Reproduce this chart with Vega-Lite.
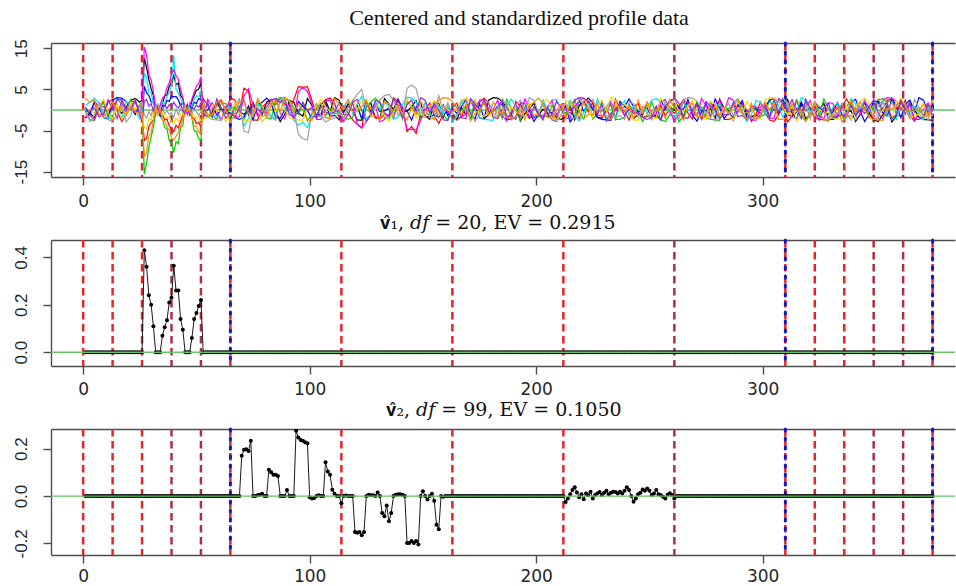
{
  "$schema": "https://vega.github.io/schema/vega-lite/v6.json",
  "background": "white",
  "padding": {"left": 0, "top": 6, "right": 0, "bottom": 0},
  "spacing": 63,
  "bounds": "flush",
  "config": {
    "view": {"stroke": null},
    "axis": {
      "domainColor": "#4d4d4d", "domainWidth": 1.4,
      "tickColor": "#4d4d4d", "tickWidth": 1.4, "tickSize": 8,
      "labelColor": "#262626", "labelFont": "Liberation Sans", "labelFontSize": 17,
      "grid": false, "title": null, "labelOverlap": false, "labelFlush": false
    }
  },
  "datasets": {
    "breaks": [
      {"x": 0, "set": 1, "end": false}, {"x": 13, "set": 1, "end": false}, {"x": 26, "set": 1, "end": false},
      {"x": 39, "set": 2, "end": false}, {"x": 52, "set": 2, "end": false}, {"x": 65, "set": 1, "end": true},
      {"x": 114, "set": 1, "end": false}, {"x": 163, "set": 1, "end": false}, {"x": 212, "set": 1, "end": false},
      {"x": 261, "set": 2, "end": false}, {"x": 310, "set": 1, "end": true}, {"x": 323, "set": 1, "end": false},
      {"x": 336, "set": 1, "end": false}, {"x": 349, "set": 2, "end": false}, {"x": 362, "set": 2, "end": false},
      {"x": 375, "set": 1, "end": true}
    ],
    "profiles": [
      {"x":1,"a":-2.0,"b":-1.0,"c":-0.1,"d":0.6,"e":1.1,"f":-1.6,"g":-1.4,"h":-0.2,"i":-0.4,"j":2.8},
      {"x":3,"a":-0.7,"b":-0.5,"c":-2.4,"d":-1.1,"e":1.9,"f":-1.3,"g":0.2,"h":-2.8,"i":-0.2,"j":1.9},
      {"x":5,"a":-1.9,"b":1.8,"c":-2.5,"d":2.1,"e":2.9,"f":-2.4,"g":-0.8,"h":-1.1,"i":0.6,"j":2.4},
      {"x":7,"a":0.8,"b":-1.1,"c":0.7,"d":0.6,"e":1.7,"f":1.0,"g":0.8,"h":1.9,"i":-1.7,"j":-1.1},
      {"x":9,"a":2.3,"b":-1.2,"c":1.7,"d":-1.9,"e":-1.8,"f":0.8,"g":2.5,"h":-0.7,"i":-1.0,"j":-1.6},
      {"x":11,"a":-1.3,"b":1.9,"c":-1.9,"d":-2.2,"e":-2.0,"f":-0.1,"g":-0.8,"h":-2.4,"i":2.5,"j":-0.5},
      {"x":13,"a":0.9,"b":2.6,"c":-2.1,"d":2.4,"e":0.1,"f":1.0,"g":-2.2,"h":-2.8,"i":0.1,"j":1.9},
      {"x":15,"a":0.2,"b":-0.2,"c":2.8,"d":3.0,"e":1.5,"f":-2.1,"g":1.6,"h":-1.2,"i":2.4,"j":-0.2},
      {"x":17,"a":-0.8,"b":-2.8,"c":1.4,"d":2.9,"e":-2.2,"f":2.4,"g":-2.2,"h":1.0,"i":2.6,"j":0.6},
      {"x":19,"a":0.7,"b":-1.1,"c":0.2,"d":2.1,"e":2.1,"f":-0.5,"g":-1.1,"h":-2.9,"i":0.3,"j":-1.3},
      {"x":21,"a":2.4,"b":2.3,"c":2.5,"d":0.6,"e":0.9,"f":1.9,"g":1.9,"h":-1.5,"i":0.2,"j":0.8},
      {"x":23,"a":2.8,"b":1.9,"c":-0.4,"d":-1.1,"e":-0.1,"f":-0.4,"g":0.1,"h":2.4,"i":2.4,"j":-0.5},
      {"x":25,"a":1.9,"b":-0.7,"c":-0.3,"d":1.5,"e":-2.1,"f":-0.2,"g":1.6,"h":-0.5,"i":-1.3,"j":-1.0},
      {"x":26,"a":2.4,"b":-1.5,"c":0.8,"d":-2.7,"e":-1.1,"f":0.4,"g":-2.3,"h":2.0,"i":-2.7,"j":-0.5},
      {"x":27,"a":12.6,"b":-7.4,"c":-15.6,"d":5.8,"e":9.0,"f":15.3,"g":-4.2,"h":-1.2,"i":2.1,"j":-11.4},
      {"x":28,"a":10.3,"b":-6.9,"c":-12.9,"d":4.2,"e":7.8,"f":13.4,"g":-4.6,"h":-2.0,"i":2.6,"j":-10.2},
      {"x":29,"a":7.4,"b":-4.0,"c":-9.1,"d":3.5,"e":4.4,"f":8.5,"g":-2.1,"h":-0.3,"i":0.9,"j":-6.3},
      {"x":30,"a":5.2,"b":-3.1,"c":-6.6,"d":2.0,"e":4.3,"f":7.3,"g":-2.5,"h":-1.4,"i":1.6,"j":-5.6},
      {"x":31,"a":3.6,"b":-2.5,"c":-4.3,"d":1.9,"e":1.5,"f":4.4,"g":-0.6,"h":0.7,"i":-0.2,"j":-2.6},
      {"x":32,"a":-0.7,"b":-1.1,"c":-0.5,"d":0.3,"e":0.2,"f":0.6,"g":0.8,"h":-0.4,"i":1.3,"j":1.2},
      {"x":33,"a":0.4,"b":0.6,"c":1.1,"d":-0.6,"e":-1.3,"f":-0.8,"g":-1.2,"h":1.6,"i":0.5,"j":-0.9},
      {"x":34,"a":0.9,"b":-0.2,"c":-1.4,"d":-1.5,"e":0.7,"f":1.2,"g":0.4,"h":-0.9,"i":-0.8,"j":0.3},
      {"x":35,"a":1.7,"b":-0.9,"c":-2.2,"d":1.2,"e":1.9,"f":2.9,"g":-1.1,"h":0.1,"i":0.2,"j":-2.4},
      {"x":36,"a":3.4,"b":-2.4,"c":-4.3,"d":1.0,"e":1.6,"f":3.5,"g":-0.9,"h":-0.8,"i":1.1,"j":-2.6},
      {"x":37,"a":3.7,"b":-2.2,"c":-4.6,"d":2.3,"e":3.3,"f":5.4,"g":-1.9,"h":-0.2,"i":0.4,"j":-4.1},
      {"x":38,"a":5.9,"b":-3.9,"c":-7.4,"d":2.1,"e":4.4,"f":6.6,"g":-1.6,"h":-1.1,"i":1.3,"j":-4.9},
      {"x":39,"a":6.5,"b":-4.6,"c":-8.1,"d":3.4,"e":6.1,"f":8.9,"g":-2.9,"h":-0.6,"i":0.9,"j":-6.8},
      {"x":40,"a":8.4,"b":-5.3,"c":-10.4,"d":3.2,"e":13.2,"f":9.8,"g":-3.4,"h":-1.8,"i":1.9,"j":-7.3},
      {"x":41,"a":6.1,"b":-3.7,"c":-7.7,"d":3.3,"e":5.1,"f":8.4,"g":-2.0,"h":0.3,"i":1.0,"j":-6.4},
      {"x":42,"a":6.6,"b":-4.4,"c":-8.2,"d":2.4,"e":4.0,"f":7.5,"g":-2.8,"h":-1.2,"i":0.5,"j":-5.5},
      {"x":43,"a":3.5,"b":-2.7,"c":-4.3,"d":1.2,"e":2.9,"f":5.1,"g":-1.0,"h":0.4,"i":1.4,"j":-3.9},
      {"x":44,"a":2.9,"b":-1.2,"c":-3.8,"d":1.8,"e":1.4,"f":3.0,"g":-1.3,"h":-0.7,"i":-0.1,"j":-2.1},
      {"x":45,"a":-0.3,"b":0.3,"c":0.9,"d":-0.5,"e":0.6,"f":0.4,"g":0.7,"h":1.1,"i":-0.9,"j":-1.2},
      {"x":46,"a":1.0,"b":1.4,"c":-0.6,"d":0.2,"e":-0.7,"f":-1.1,"g":-0.3,"h":-0.2,"i":0.6,"j":0.5},
      {"x":47,"a":-0.9,"b":-0.8,"c":1.3,"d":1.1,"e":1.8,"f":0.8,"g":0.2,"h":0.6,"i":-1.3,"j":-0.4},
      {"x":48,"a":2.2,"b":-1.6,"c":-2.0,"d":0.4,"e":0.9,"f":2.7,"g":-1.0,"h":-0.9,"i":0.5,"j":-1.3},
      {"x":49,"a":3.6,"b":-2.1,"c":-5.1,"d":1.9,"e":2.7,"f":4.3,"g":-1.2,"h":0.2,"i":0.3,"j":-3.9},
      {"x":50,"a":4.8,"b":-3.3,"c":-5.2,"d":1.6,"e":3.4,"f":5.9,"g":-2.1,"h":-0.5,"i":1.2,"j":-4.0},
      {"x":51,"a":5.1,"b":-3.0,"c":-7.0,"d":2.8,"e":3.3,"f":6.4,"g":-1.6,"h":-1.3,"i":0.7,"j":-5.4},
      {"x":52,"a":6.5,"b":-4.2,"c":-7.5,"d":2.5,"e":4.6,"f":8.1,"g":-2.6,"h":-0.4,"i":1.5,"j":-5.6},
      {"x":53,"a":-1.1,"b":2.8,"c":2.3,"d":-0.9,"e":-1.1,"f":-2.1,"g":-2.3,"h":0.1,"i":-0.5,"j":1.8},
      {"x":55,"a":-1.6,"b":1.1,"c":-1.6,"d":0.1,"e":1.7,"f":2.6,"g":-1.7,"h":-1.8,"i":1.6,"j":-1.1},
      {"x":57,"a":-0.5,"b":-1.8,"c":-1.3,"d":1.7,"e":-1.6,"f":0.4,"g":1.4,"h":-2.3,"i":-1.5,"j":-1.2},
      {"x":59,"a":1.9,"b":1.3,"c":-2.3,"d":-1.4,"e":-1.3,"f":-0.2,"g":-0.3,"h":-2.4,"i":2.7,"j":1.9},
      {"x":61,"a":-0.2,"b":2.4,"c":1.8,"d":0.2,"e":-2.4,"f":-2.5,"g":-0.2,"h":-2.5,"i":0.5,"j":2.6},
      {"x":63,"a":0.6,"b":-0.4,"c":1.6,"d":-0.9,"e":1.0,"f":0.7,"g":-2.8,"h":0.4,"i":-2.0,"j":-0.2},
      {"x":65,"a":-1.3,"b":3.0,"c":-1.8,"d":-0.6,"e":0.8,"f":1.7,"g":-1.1,"h":0.4,"i":-0.7,"j":-2.8},
      {"x":67,"a":0.8,"b":2.4,"c":0.8,"d":-1.8,"e":-0.1,"f":-1.7,"g":1.9,"h":0.8,"i":-1.9,"j":-1.1},
      {"x":69,"a":-0.5,"b":-0.6,"c":-0.8,"d":-2.3,"e":1.0,"f":-1.6,"g":-0.7,"h":2.7,"i":0.8,"j":2.3},
      {"x":71,"a":-1.0,"b":5.3,"c":-2.4,"d":-1.7,"e":-3.9,"f":3.4,"g":-2.4,"h":-5.2,"i":2.3,"j":1.9},
      {"x":73,"a":-0.5,"b":4.6,"c":0.6,"d":1.0,"e":-2.0,"f":5.2,"g":-2.8,"h":-5.5,"i":-1.3,"j":-0.7},
      {"x":75,"a":1.8,"b":-2.4,"c":-1.1,"d":-2.4,"e":-0.5,"f":1.2,"g":-1.2,"h":-0.2,"i":0.9,"j":-1.5},
      {"x":77,"a":-1.1,"b":-2.5,"c":2.1,"d":1.1,"e":1.9,"f":-1.4,"g":1.0,"h":0.6,"i":0.2,"j":2.8},
      {"x":79,"a":-1.2,"b":0.7,"c":0.6,"d":1.9,"e":-0.4,"f":0.2,"g":-2.9,"h":-1.7,"i":-0.8,"j":1.1},
      {"x":81,"a":1.9,"b":1.7,"c":-1.9,"d":2.9,"e":-0.2,"f":-0.8,"g":-1.5,"h":-1.0,"i":0.7,"j":-1.8},
      {"x":83,"a":2.6,"b":1.6,"c":-2.2,"d":1.7,"e":-1.4,"f":2.3,"g":2.4,"h":-1.8,"i":2.4,"j":1.3},
      {"x":85,"a":-0.2,"b":1.4,"c":2.4,"d":-1.8,"e":-2.2,"f":2.8,"g":-0.5,"h":-2.5,"i":2.8,"j":2.4},
      {"x":87,"a":-2.8,"b":2.8,"c":3.0,"d":-2.0,"e":2.6,"f":-0.8,"g":2.0,"h":2.4,"i":1.9,"j":-0.4},
      {"x":89,"a":-1.1,"b":1.4,"c":2.9,"d":0.1,"e":0.4,"f":-2.2,"g":0.1,"h":2.6,"i":2.4,"j":3.0},
      {"x":91,"a":2.3,"b":0.2,"c":2.1,"d":1.5,"e":-0.2,"f":1.6,"g":-1.8,"h":0.3,"i":-1.1,"j":2.4},
      {"x":93,"a":1.9,"b":2.5,"c":0.6,"d":-2.2,"e":-2.5,"f":-2.2,"g":-2.3,"h":0.2,"i":-1.6,"j":-0.6},
      {"x":95,"a":-0.7,"b":5.7,"c":-1.1,"d":2.1,"e":-3.7,"f":4.5,"g":-2.4,"h":-5.9,"i":-0.5,"j":1.5},
      {"x":97,"a":-1.5,"b":5.5,"c":1.5,"d":0.9,"e":-3.0,"f":5.5,"g":-2.5,"h":-7.0,"i":1.9,"j":-0.1},
      {"x":99,"a":2.8,"b":5.7,"c":-2.7,"d":-0.1,"e":-4.3,"f":4.5,"g":0.4,"h":-7.3,"i":-0.2,"j":-2.4},
      {"x":101,"a":1.1,"b":2.3,"c":-0.9,"d":-2.1,"e":-1.6,"f":1.6,"g":0.4,"h":-0.5,"i":0.6,"j":-2.5},
      {"x":103,"a":-1.8,"b":-1.6,"c":0.1,"d":-1.1,"e":-1.2,"f":-2.3,"g":0.8,"h":1.6,"i":-1.3,"j":0.7},
      {"x":105,"a":1.3,"b":-1.3,"c":1.7,"d":-1.1,"e":-1.7,"f":-2.3,"g":2.7,"h":-1.5,"i":0.8,"j":1.7},
      {"x":107,"a":2.4,"b":2.5,"c":-1.4,"d":1.7,"e":-1.8,"f":2.2,"g":0.8,"h":-2.9,"i":-0.5,"j":-1.9},
      {"x":109,"a":-0.4,"b":2.9,"c":0.2,"d":-1.6,"e":-2.0,"f":2.4,"g":-0.4,"h":-2.3,"i":-1.0,"j":-2.1},
      {"x":111,"a":3.0,"b":1.6,"c":-0.9,"d":-1.3,"e":0.2,"f":-0.3,"g":-0.2,"h":-2.0,"i":-0.5,"j":2.8},
      {"x":113,"a":2.4,"b":-1.8,"c":-0.6,"d":-2.4,"e":-0.8,"f":-0.2,"g":0.6,"h":-0.7,"i":1.8,"j":1.4},
      {"x":115,"a":-0.6,"b":0.8,"c":-1.8,"d":1.0,"e":0.8,"f":-2.8,"g":-1.7,"h":-1.9,"i":-1.1,"j":0.2},
      {"x":117,"a":1.5,"b":-0.8,"c":-2.3,"d":0.8,"e":2.5,"f":-1.1,"g":-1.0,"h":0.8,"i":-1.2,"j":2.5},
      {"x":119,"a":-0.1,"b":-2.4,"c":-1.7,"d":-0.1,"e":-0.8,"f":1.9,"g":2.5,"h":2.3,"i":1.9,"j":-0.4},
      {"x":121,"a":-2.4,"b":-3.5,"c":1.0,"d":1.0,"e":1.6,"f":-3.4,"g":0.1,"h":3.8,"i":2.6,"j":-0.3},
      {"x":123,"a":-2.5,"b":-4.4,"c":-2.4,"d":-2.1,"e":3.3,"f":-4.3,"g":2.4,"h":5.0,"i":-0.2,"j":0.8},
      {"x":125,"a":0.7,"b":2.1,"c":1.1,"d":2.4,"e":-2.2,"f":-2.8,"g":2.6,"h":0.2,"i":-2.8,"j":2.3},
      {"x":127,"a":1.7,"b":0.6,"c":1.9,"d":-0.5,"e":-1.1,"f":-1.2,"g":0.3,"h":-0.8,"i":-1.1,"j":-1.6},
      {"x":129,"a":-1.9,"b":-1.9,"c":2.9,"d":1.9,"e":1.9,"f":1.0,"g":0.2,"h":0.7,"i":2.3,"j":-1.3},
      {"x":131,"a":-2.1,"b":-2.2,"c":1.7,"d":-0.4,"e":0.1,"f":-2.9,"g":2.4,"h":2.4,"i":1.9,"j":-2.3},
      {"x":133,"a":2.8,"b":-1.0,"c":-1.8,"d":-0.2,"e":2.0,"f":-2.3,"g":-1.3,"h":3.5,"i":-0.7,"j":1.8},
      {"x":135,"a":1.4,"b":-1.4,"c":-2.0,"d":0.4,"e":0.8,"f":-1.1,"g":-2.7,"h":3.8,"i":-1.5,"j":1.6},
      {"x":137,"a":0.2,"b":2.9,"c":0.1,"d":-2.1,"e":-2.3,"f":-0.5,"g":-0.5,"h":2.4,"i":2.8,"j":-1.8},
      {"x":139,"a":2.5,"b":2.1,"c":1.5,"d":2.6,"e":-1.7,"f":2.0,"g":1.6,"h":-1.1,"i":1.1,"j":0.8},
      {"x":141,"a":-0.4,"b":0.6,"c":-2.2,"d":0.4,"e":1.4,"f":0.1,"g":-1.5,"h":-1.6,"i":-1.8,"j":-0.8},
      {"x":143,"a":-0.3,"b":-5.2,"c":2.1,"d":-0.2,"e":3.1,"f":-4.7,"g":2.7,"h":5.3,"i":1.3,"j":-2.4},
      {"x":145,"a":0.8,"b":-4.0,"c":0.9,"d":-2.5,"e":2.9,"f":-4.7,"g":0.5,"h":6.1,"i":2.4,"j":0.6},
      {"x":147,"a":2.3,"b":-5.7,"c":-0.1,"d":0.7,"e":1.9,"f":-4.8,"g":-2.0,"h":5.2,"i":-0.4,"j":-1.1},
      {"x":149,"a":-1.6,"b":-0.9,"c":-2.1,"d":1.7,"e":-1.1,"f":-2.5,"g":-0.7,"h":0.6,"i":3.0,"j":2.1},
      {"x":151,"a":-1.3,"b":0.1,"c":-1.1,"d":-1.7,"e":1.9,"f":0.4,"g":-1.9,"h":-1.3,"i":2.4,"j":0.6},
      {"x":153,"a":-2.3,"b":1.7,"c":-1.1,"d":-1.6,"e":-0.7,"f":0.4,"g":0.8,"h":0.8,"i":-0.6,"j":-1.9},
      {"x":155,"a":1.8,"b":-1.4,"c":1.7,"d":-1.2,"e":-2.4,"f":0.8,"g":2.3,"h":-0.5,"i":1.5,"j":-2.2},
      {"x":157,"a":1.6,"b":-3.3,"c":-1.6,"d":-1.7,"e":1.1,"f":-1.7,"g":-1.3,"h":3.5,"i":-0.1,"j":2.4},
      {"x":159,"a":-1.8,"b":-0.9,"c":-1.3,"d":1.2,"e":-1.2,"f":0.8,"g":0.9,"h":-0.5,"i":-2.4,"j":3.0},
      {"x":161,"a":0.8,"b":-0.6,"c":-2.4,"d":-1.4,"e":1.0,"f":-0.4,"g":0.2,"h":1.8,"i":-2.5,"j":2.9},
      {"x":163,"a":-0.8,"b":-1.8,"c":1.0,"d":0.2,"e":-2.9,"f":-0.2,"g":-0.8,"h":-1.1,"i":0.7,"j":2.1},
      {"x":165,"a":-2.4,"b":-2.3,"c":0.8,"d":-0.8,"e":-1.5,"f":0.6,"g":0.7,"h":-1.2,"i":1.7,"j":0.6},
      {"x":167,"a":0.6,"b":-1.7,"c":-0.1,"d":0.8,"e":2.4,"f":-1.7,"g":2.4,"h":1.9,"i":-1.9,"j":-1.1},
      {"x":169,"a":-1.1,"b":1.0,"c":1.0,"d":2.5,"e":-0.5,"f":-1.0,"g":2.8,"h":2.6,"i":-2.1,"j":1.5},
      {"x":171,"a":2.1,"b":-2.4,"c":-2.1,"d":-0.8,"e":2.0,"f":2.5,"g":1.9,"h":-0.2,"i":2.8,"j":-2.7},
      {"x":173,"a":0.6,"b":1.1,"c":2.4,"d":-2.2,"e":0.1,"f":0.1,"g":2.4,"h":-2.8,"i":1.4,"j":-0.9},
      {"x":175,"a":-1.9,"b":1.9,"c":-0.5,"d":1.6,"e":-1.8,"f":2.4,"g":-1.1,"h":-1.1,"i":0.2,"j":0.1},
      {"x":177,"a":-2.2,"b":2.9,"c":1.9,"d":-2.2,"e":-2.3,"f":2.6,"g":-1.6,"h":2.3,"i":2.5,"j":1.7},
      {"x":179,"a":2.4,"b":1.7,"c":-0.4,"d":-1.1,"e":-2.4,"f":0.3,"g":-0.5,"h":1.9,"i":-0.4,"j":-1.4},
      {"x":181,"a":3.0,"b":-1.8,"c":-0.2,"d":1.9,"e":-2.5,"f":0.2,"g":1.9,"h":-0.7,"i":-0.3,"j":0.2},
      {"x":183,"a":2.9,"b":-2.0,"c":0.4,"d":0.1,"e":0.4,"f":2.4,"g":-0.2,"h":-1.5,"i":0.8,"j":-0.9},
      {"x":185,"a":2.1,"b":0.1,"c":-2.1,"d":1.6,"e":0.4,"f":-1.3,"g":0.6,"h":2.8,"i":2.3,"j":-0.6},
      {"x":187,"a":0.6,"b":1.5,"c":2.6,"d":-2.3,"e":0.8,"f":-2.7,"g":-1.3,"h":1.1,"i":-1.6,"j":-1.8},
      {"x":189,"a":-1.1,"b":-2.2,"c":0.4,"d":-2.3,"e":2.7,"f":-0.5,"g":0.8,"h":-1.8,"i":-1.3,"j":-2.3},
      {"x":191,"a":1.5,"b":2.1,"c":-0.2,"d":-1.7,"e":0.8,"f":1.6,"g":-0.5,"h":1.3,"i":-2.3,"j":-1.7},
      {"x":193,"a":-2.7,"b":0.9,"c":-2.5,"d":1.4,"e":-0.4,"f":-1.5,"g":-1.0,"h":2.4,"i":1.8,"j":1.0},
      {"x":195,"a":-0.9,"b":-0.1,"c":0.7,"d":-0.3,"e":-0.2,"f":2.7,"g":-0.5,"h":-0.4,"i":1.6,"j":-2.4},
      {"x":197,"a":0.1,"b":-2.1,"c":1.7,"d":-0.2,"e":0.6,"f":0.5,"g":1.8,"h":3.0,"i":-1.8,"j":1.1},
      {"x":199,"a":1.7,"b":-1.1,"c":-1.7,"d":-2.8,"e":-1.7,"f":-2.0,"g":-1.1,"h":2.4,"i":0.8,"j":1.9},
      {"x":201,"a":-1.4,"b":-1.1,"c":-1.6,"d":-1.1,"e":-1.0,"f":-0.7,"g":-1.2,"h":-0.6,"i":-0.8,"j":2.9},
      {"x":203,"a":0.2,"b":1.7,"c":-1.2,"d":1.9,"e":2.5,"f":-1.9,"g":1.9,"h":1.5,"i":-2.4,"j":1.7},
      {"x":205,"a":-0.9,"b":-1.6,"c":-1.7,"d":-0.7,"e":0.1,"f":0.8,"g":2.6,"h":-0.1,"i":0.6,"j":-1.8},
      {"x":207,"a":-0.6,"b":-1.3,"c":1.2,"d":-2.4,"e":2.4,"f":2.3,"g":-0.2,"h":-2.4,"i":-1.1,"j":-2.0},
      {"x":209,"a":-1.8,"b":-2.4,"c":-1.4,"d":-2.8,"e":2.6,"f":-1.3,"g":-2.8,"h":-2.5,"i":2.1,"j":0.1},
      {"x":211,"a":-2.3,"b":1.0,"c":0.2,"d":-1.2,"e":0.3,"f":0.9,"g":-1.1,"h":0.7,"i":0.6,"j":1.5},
      {"x":213,"a":-1.7,"b":0.8,"c":-0.8,"d":1.0,"e":0.2,"f":0.2,"g":2.3,"h":1.7,"i":-1.9,"j":-2.2},
      {"x":215,"a":1.0,"b":-0.1,"c":0.8,"d":-2.9,"e":2.4,"f":-0.8,"g":1.9,"h":-1.9,"i":-2.2,"j":2.1},
      {"x":217,"a":-2.4,"b":1.0,"c":2.5,"d":-1.5,"e":-1.3,"f":0.7,"g":-0.7,"h":-2.1,"i":2.4,"j":0.9},
      {"x":219,"a":1.1,"b":-2.1,"c":-0.8,"d":2.4,"e":-2.7,"f":2.4,"g":-1.5,"h":2.8,"i":3.0,"j":-0.1},
      {"x":221,"a":1.9,"b":2.4,"c":-2.2,"d":-0.5,"e":-0.5,"f":2.8,"g":2.8,"h":1.4,"i":2.9,"j":-2.1},
      {"x":223,"a":2.9,"b":-0.5,"c":1.6,"d":2.0,"e":1.6,"f":1.9,"g":1.1,"h":0.2,"i":2.1,"j":-1.1},
      {"x":225,"a":1.7,"b":1.9,"c":-2.2,"d":0.1,"e":-1.5,"f":2.4,"g":-1.8,"h":2.5,"i":0.6,"j":-1.1},
      {"x":227,"a":-1.8,"b":-0.4,"c":-1.1,"d":-1.8,"e":2.7,"f":-1.1,"g":1.3,"h":-0.4,"i":-1.1,"j":1.7},
      {"x":229,"a":-2.0,"b":-0.2,"c":1.9,"d":-2.3,"e":0.5,"f":-1.6,"g":2.4,"h":-0.3,"i":1.5,"j":-1.6},
      {"x":231,"a":0.1,"b":0.4,"c":0.1,"d":-2.4,"e":-2.0,"f":-0.5,"g":-0.4,"h":0.8,"i":-2.7,"j":-1.3},
      {"x":233,"a":1.5,"b":-2.1,"c":1.6,"d":-2.5,"e":-0.7,"f":1.9,"g":3.0,"h":2.3,"i":-0.9,"j":-2.4},
      {"x":235,"a":-2.2,"b":2.6,"c":-2.3,"d":0.4,"e":-1.9,"f":-0.2,"g":2.4,"h":-1.6,"i":0.1,"j":1.0},
      {"x":237,"a":2.1,"b":0.4,"c":-2.3,"d":0.4,"e":0.8,"f":0.6,"g":-0.6,"h":-1.3,"i":1.7,"j":0.8},
      {"x":239,"a":0.9,"b":-0.2,"c":-1.7,"d":0.8,"e":2.3,"f":-1.3,"g":1.5,"h":-2.3,"i":-1.4,"j":-0.1},
      {"x":241,"a":-0.1,"b":-2.5,"c":1.4,"d":2.7,"e":-1.3,"f":0.8,"g":-0.1,"h":1.8,"i":0.2,"j":1.0},
      {"x":243,"a":-2.1,"b":0.7,"c":-0.3,"d":0.8,"e":0.9,"f":-0.5,"g":-2.4,"h":1.6,"i":-0.9,"j":-2.1},
      {"x":245,"a":-1.1,"b":1.7,"c":-0.2,"d":-0.4,"e":0.2,"f":-1.0,"g":-2.5,"h":-1.8,"i":-0.6,"j":2.4},
      {"x":247,"a":-1.1,"b":-1.7,"c":-2.8,"d":-0.2,"e":-0.8,"f":-0.5,"g":0.7,"h":0.8,"i":-1.8,"j":-0.5},
      {"x":249,"a":1.7,"b":-1.6,"c":-1.1,"d":0.6,"e":0.7,"f":1.8,"g":1.7,"h":-0.8,"i":-2.3,"j":1.9},
      {"x":251,"a":-1.6,"b":-1.2,"c":1.9,"d":-1.7,"e":2.4,"f":-1.1,"g":-1.9,"h":-2.4,"i":-1.7,"j":-0.4},
      {"x":253,"a":-1.3,"b":-1.7,"c":-0.7,"d":-1.0,"e":2.8,"f":-1.2,"g":-2.1,"h":0.6,"i":1.0,"j":-0.2},
      {"x":255,"a":-2.4,"b":1.2,"c":-2.4,"d":2.5,"e":1.9,"f":1.9,"g":2.8,"h":-1.1,"i":-2.4,"j":0.4},
      {"x":257,"a":1.0,"b":-1.4,"c":-2.8,"d":0.1,"e":2.4,"f":2.6,"g":1.4,"h":2.1,"i":1.1,"j":-2.1},
      {"x":259,"a":0.8,"b":0.2,"c":-1.2,"d":2.4,"e":-1.1,"f":-0.2,"g":0.2,"h":0.6,"i":1.9,"j":2.6},
      {"x":261,"a":-0.1,"b":-0.8,"c":1.0,"d":2.6,"e":-1.6,"f":-2.8,"g":2.5,"h":-1.9,"i":2.9,"j":0.4},
      {"x":263,"a":1.0,"b":0.8,"c":-2.9,"d":0.3,"e":-0.5,"f":-1.1,"g":-0.4,"h":-2.2,"i":1.7,"j":-0.2},
      {"x":265,"a":-2.1,"b":2.5,"c":-1.5,"d":0.2,"e":1.9,"f":2.3,"g":-0.3,"h":2.4,"i":-1.8,"j":-2.5},
      {"x":267,"a":2.4,"b":-0.8,"c":2.4,"d":2.4,"e":-0.2,"f":1.9,"g":0.8,"h":3.0,"i":-2.0,"j":0.7},
      {"x":269,"a":-0.5,"b":-2.2,"c":-0.5,"d":-1.3,"e":0.6,"f":-0.7,"g":2.3,"h":2.9,"i":0.1,"j":1.7},
      {"x":271,"a":1.9,"b":1.6,"c":2.0,"d":-2.7,"e":-1.3,"f":-1.5,"g":-1.6,"h":2.1,"i":1.5,"j":-1.7},
      {"x":273,"a":-0.4,"b":-2.2,"c":0.1,"d":-0.5,"e":0.8,"f":2.8,"g":-1.3,"h":0.6,"i":-2.2,"j":-1.6},
      {"x":275,"a":-0.2,"b":-1.1,"c":-1.8,"d":1.6,"e":-0.5,"f":1.1,"g":-2.3,"h":-1.1,"i":2.1,"j":-1.2},
      {"x":277,"a":0.4,"b":1.9,"c":-2.3,"d":-1.5,"e":-1.0,"f":-1.8,"g":1.8,"h":1.5,"i":0.9,"j":-1.7},
      {"x":279,"a":-2.1,"b":0.1,"c":-2.4,"d":2.7,"e":-0.5,"f":1.3,"g":1.6,"h":-2.7,"i":-0.1,"j":1.2},
      {"x":281,"a":2.6,"b":1.6,"c":-2.5,"d":0.5,"e":1.8,"f":2.4,"g":-1.8,"h":-0.9,"i":-2.1,"j":-1.4},
      {"x":283,"a":0.4,"b":-2.3,"c":0.4,"d":-2.0,"e":-1.1,"f":-0.4,"g":0.8,"h":0.1,"i":-1.1,"j":0.2},
      {"x":285,"a":-0.2,"b":-2.3,"c":0.4,"d":-0.7,"e":-1.2,"f":3.0,"g":-0.8,"h":1.7,"i":-1.1,"j":-0.8},
      {"x":287,"a":-2.5,"b":-1.7,"c":0.8,"d":-1.9,"e":1.9,"f":2.4,"g":-2.4,"h":-1.4,"i":1.7,"j":0.8},
      {"x":289,"a":0.7,"b":1.4,"c":2.7,"d":0.8,"e":2.6,"f":-0.6,"g":0.6,"h":0.2,"i":-1.6,"j":2.5},
      {"x":291,"a":1.7,"b":-0.3,"c":0.8,"d":2.3,"e":-0.2,"f":1.5,"g":-1.1,"h":-0.9,"i":-1.3,"j":-0.8},
      {"x":293,"a":-1.7,"b":-0.2,"c":-0.4,"d":-1.3,"e":-2.8,"f":-0.1,"g":2.1,"h":-0.6,"i":-2.4,"j":-2.2},
      {"x":295,"a":-1.6,"b":-2.8,"c":-0.2,"d":0.9,"e":-1.1,"f":-2.4,"g":0.6,"h":-1.8,"i":1.0,"j":1.6},
      {"x":297,"a":-1.2,"b":-1.1,"c":0.6,"d":0.2,"e":2.3,"f":-2.5,"g":-1.9,"h":-2.3,"i":0.8,"j":-2.2},
      {"x":299,"a":-1.7,"b":1.9,"c":-1.7,"d":-0.8,"e":1.9,"f":0.7,"g":-2.2,"h":-1.7,"i":-0.1,"j":-1.1},
      {"x":301,"a":1.2,"b":-0.7,"c":-1.0,"d":0.7,"e":-0.7,"f":1.7,"g":2.4,"h":1.0,"i":1.0,"j":1.9},
      {"x":303,"a":-1.4,"b":-2.4,"c":2.5,"d":2.4,"e":-1.5,"f":-1.9,"g":3.0,"h":-2.4,"i":-2.1,"j":0.1},
      {"x":305,"a":0.2,"b":-2.8,"c":0.1,"d":2.8,"e":2.8,"f":-2.1,"g":2.9,"h":1.1,"i":2.4,"j":1.6},
      {"x":307,"a":-0.8,"b":-1.2,"c":2.4,"d":1.9,"e":1.1,"f":2.8,"g":2.1,"h":1.9,"i":-0.5,"j":-2.3},
      {"x":309,"a":0.8,"b":1.0,"c":2.6,"d":2.4,"e":-1.8,"f":1.4,"g":0.6,"h":2.9,"i":1.9,"j":-2.3},
      {"x":311,"a":2.5,"b":-2.9,"c":0.3,"d":-1.1,"e":1.3,"f":0.2,"g":-1.1,"h":1.7,"i":-0.4,"j":-1.7},
      {"x":313,"a":-0.8,"b":-1.5,"c":0.2,"d":-1.6,"e":2.4,"f":2.5,"g":1.5,"h":-1.8,"i":-0.2,"j":1.4},
      {"x":315,"a":-2.2,"b":2.4,"c":2.4,"d":-0.5,"e":-0.4,"f":-0.4,"g":-2.7,"h":-2.0,"i":0.4,"j":-0.3},
      {"x":317,"a":1.6,"b":-0.5,"c":-1.3,"d":1.9,"e":3.0,"f":-0.3,"g":-0.9,"h":0.1,"i":-2.1,"j":-0.2},
      {"x":319,"a":-2.2,"b":2.0,"c":-2.7,"d":-0.2,"e":2.4,"f":0.8,"g":0.1,"h":1.5,"i":2.6,"j":-2.8},
      {"x":321,"a":-1.1,"b":0.1,"c":-0.5,"d":0.6,"e":-0.6,"f":2.3,"g":1.7,"h":-2.2,"i":0.4,"j":-1.1},
      {"x":323,"a":1.9,"b":-1.8,"c":1.6,"d":-1.3,"e":1.5,"f":-1.6,"g":-1.4,"h":2.1,"i":-0.2,"j":1.9},
      {"x":325,"a":0.1,"b":-2.3,"c":-1.5,"d":0.8,"e":-0.1,"f":-1.3,"g":0.2,"h":0.9,"i":-2.5,"j":-0.7},
      {"x":327,"a":1.6,"b":-2.4,"c":2.7,"d":-0.5,"e":-2.4,"f":-2.3,"g":-0.9,"h":-0.1,"i":0.7,"j":-2.4},
      {"x":329,"a":-2.3,"b":-2.5,"c":0.5,"d":-1.0,"e":-2.5,"f":1.8,"g":-0.6,"h":-2.1,"i":1.7,"j":-2.8},
      {"x":331,"a":-2.3,"b":0.4,"c":-2.0,"d":-0.5,"e":0.7,"f":1.6,"g":-1.8,"h":-1.1,"i":-1.7,"j":-1.2},
      {"x":333,"a":-1.7,"b":0.4,"c":-0.7,"d":1.8,"e":1.7,"f":-1.8,"g":-2.3,"h":-1.1,"i":-1.6,"j":1.0},
      {"x":335,"a":1.4,"b":0.8,"c":-1.9,"d":-1.1,"e":-1.9,"f":0.8,"g":-1.7,"h":1.7,"i":-1.2,"j":-2.9},
      {"x":337,"a":-0.3,"b":2.7,"c":0.8,"d":-1.2,"e":-2.1,"f":-0.8,"g":1.0,"h":-1.6,"i":-1.7,"j":-1.5},
      {"x":339,"a":-0.2,"b":0.8,"c":2.3,"d":1.9,"e":2.8,"f":-2.4,"g":-2.4,"h":-1.3,"i":1.2,"j":2.4},
      {"x":341,"a":-2.8,"b":-0.4,"c":-1.3,"d":2.6,"e":1.4,"f":0.6,"g":1.1,"h":-2.4,"i":-1.4,"j":-0.5},
      {"x":343,"a":-1.1,"b":-0.2,"c":0.9,"d":-0.2,"e":0.2,"f":-1.1,"g":1.9,"h":1.0,"i":0.2,"j":2.0},
      {"x":345,"a":1.9,"b":0.6,"c":0.2,"d":-2.8,"e":2.5,"f":2.1,"g":2.9,"h":0.8,"i":-0.8,"j":0.1},
      {"x":347,"a":-0.7,"b":-1.7,"c":-0.8,"d":-1.1,"e":-0.4,"f":0.6,"g":1.7,"h":-0.1,"i":0.8,"j":-1.8},
      {"x":349,"a":-2.4,"b":-1.0,"c":0.7,"d":2.3,"e":-0.3,"f":-1.9,"g":-1.8,"h":1.0,"i":2.5,"j":-2.3},
      {"x":351,"a":-2.8,"b":2.5,"c":2.4,"d":1.9,"e":0.8,"f":-2.2,"g":-2.0,"h":-2.1,"i":-0.8,"j":-2.4},
      {"x":353,"a":-1.2,"b":0.1,"c":2.8,"d":-0.7,"e":2.3,"f":2.4,"g":0.1,"h":2.4,"i":-2.2,"j":-2.5},
      {"x":355,"a":1.0,"b":2.4,"c":1.9,"d":-1.5,"e":-1.6,"f":3.0,"g":1.5,"h":-0.5,"i":1.6,"j":0.4},
      {"x":357,"a":-2.9,"b":2.6,"c":2.4,"d":2.8,"e":-1.3,"f":2.9,"g":-2.2,"h":1.9,"i":-2.2,"j":0.4},
      {"x":359,"a":-1.5,"b":0.3,"c":-1.1,"d":1.1,"e":-2.3,"f":2.1,"g":2.1,"h":-0.4,"i":-1.1,"j":0.8},
      {"x":361,"a":2.4,"b":0.2,"c":-1.6,"d":-1.8,"e":1.8,"f":0.6,"g":0.9,"h":-0.2,"i":1.9,"j":2.7},
      {"x":363,"a":-0.5,"b":2.4,"c":-0.5,"d":1.3,"e":1.6,"f":-1.1,"g":-0.1,"h":0.4,"i":0.1,"j":0.8},
      {"x":365,"a":2.0,"b":-1.3,"c":1.9,"d":2.4,"e":-1.8,"f":1.5,"g":-2.1,"h":-2.1,"i":1.6,"j":-0.4},
      {"x":367,"a":0.1,"b":-2.7,"c":-0.2,"d":-0.4,"e":0.8,"f":-2.7,"g":-1.1,"h":2.6,"i":-2.3,"j":-0.2},
      {"x":369,"a":-1.8,"b":-0.5,"c":0.6,"d":3.0,"e":-0.8,"f":-0.9,"g":-1.1,"h":0.4,"i":-2.3,"j":0.6},
      {"x":371,"a":-2.3,"b":1.6,"c":-1.3,"d":2.4,"e":-2.4,"f":0.1,"g":1.7,"h":-0.2,"i":-1.7,"j":-1.7},
      {"x":373,"a":-2.4,"b":-1.5,"c":0.8,"d":-0.6,"e":0.6,"f":1.7,"g":-1.6,"h":-2.5,"i":1.4,"j":-1.0},
      {"x":375,"a":-2.5,"b":2.7,"c":-0.5,"d":1.5,"e":-1.1,"f":-1.4,"g":-1.3,"h":0.7,"i":-0.3,"j":2.5}
    ],
    "loadings": [
      {"x":1,"v1":0,"v2":0},{"x":2,"v1":0,"v2":0},{"x":3,"v1":0,"v2":0},{"x":4,"v1":0,"v2":0},{"x":5,"v1":0,"v2":0},
      {"x":6,"v1":0,"v2":0},{"x":7,"v1":0,"v2":0},{"x":8,"v1":0,"v2":0},{"x":9,"v1":0,"v2":0},{"x":10,"v1":0,"v2":0},
      {"x":11,"v1":0,"v2":0},{"x":12,"v1":0,"v2":0},{"x":13,"v1":0,"v2":0},{"x":14,"v1":0,"v2":0},{"x":15,"v1":0,"v2":0},
      {"x":16,"v1":0,"v2":0},{"x":17,"v1":0,"v2":0},{"x":18,"v1":0,"v2":0},{"x":19,"v1":0,"v2":0},{"x":20,"v1":0,"v2":0},
      {"x":21,"v1":0,"v2":0},{"x":22,"v1":0,"v2":0},{"x":23,"v1":0,"v2":0},{"x":24,"v1":0,"v2":0},{"x":25,"v1":0,"v2":0},
      {"x":26,"v1":0,"v2":0},{"x":27,"v1":0.43,"v2":0},{"x":28,"v1":0.36,"v2":0},{"x":29,"v1":0.24,"v2":0},{"x":30,"v1":0.2,"v2":0},
      {"x":31,"v1":0.11,"v2":0},{"x":32,"v1":0,"v2":0},{"x":33,"v1":0,"v2":0},{"x":34,"v1":0,"v2":0},{"x":35,"v1":0.07,"v2":0},
      {"x":36,"v1":0.105,"v2":0},{"x":37,"v1":0.135,"v2":0},{"x":38,"v1":0.21,"v2":0},{"x":39,"v1":0.23,"v2":0},{"x":40,"v1":0.365,"v2":0},
      {"x":41,"v1":0.26,"v2":0},{"x":42,"v1":0.26,"v2":0},{"x":43,"v1":0.14,"v2":0},{"x":44,"v1":0.095,"v2":0},{"x":45,"v1":0,"v2":0},
      {"x":46,"v1":0,"v2":0},{"x":47,"v1":0,"v2":0},{"x":48,"v1":0.06,"v2":0},{"x":49,"v1":0.14,"v2":0},{"x":50,"v1":0.165,"v2":0},
      {"x":51,"v1":0.195,"v2":0},{"x":52,"v1":0.22,"v2":0},{"x":53,"v1":0,"v2":0},{"x":54,"v1":0,"v2":0},{"x":55,"v1":0,"v2":0},
      {"x":56,"v1":0,"v2":0},{"x":57,"v1":0,"v2":0},{"x":58,"v1":0,"v2":0},{"x":59,"v1":0,"v2":0},{"x":60,"v1":0,"v2":0},
      {"x":61,"v1":0,"v2":0},{"x":62,"v1":0,"v2":0},{"x":63,"v1":0,"v2":0},{"x":64,"v1":0,"v2":0},{"x":65,"v1":0,"v2":0},
      {"x":66,"v1":0,"v2":0},{"x":67,"v1":0,"v2":0},{"x":68,"v1":0,"v2":0},{"x":69,"v1":0,"v2":0},{"x":70,"v1":0,"v2":0.17},
      {"x":71,"v1":0,"v2":0.195},{"x":72,"v1":0,"v2":0.198},{"x":73,"v1":0,"v2":0.19},{"x":74,"v1":0,"v2":0.233},{"x":75,"v1":0,"v2":0},
      {"x":76,"v1":0,"v2":0},{"x":77,"v1":0,"v2":0.003},{"x":78,"v1":0,"v2":0.005},{"x":79,"v1":0,"v2":0.01},{"x":80,"v1":0,"v2":0},
      {"x":81,"v1":0,"v2":0},{"x":82,"v1":0,"v2":0.111},{"x":83,"v1":0,"v2":0.1},{"x":84,"v1":0,"v2":0.09},{"x":85,"v1":0,"v2":0.09},
      {"x":86,"v1":0,"v2":0.085},{"x":87,"v1":0,"v2":0},{"x":88,"v1":0,"v2":0},{"x":89,"v1":0,"v2":0},{"x":90,"v1":0,"v2":0.025},
      {"x":91,"v1":0,"v2":0},{"x":92,"v1":0,"v2":0},{"x":93,"v1":0,"v2":0},{"x":94,"v1":0,"v2":0.276},{"x":95,"v1":0,"v2":0.247},
      {"x":96,"v1":0,"v2":0.237},{"x":97,"v1":0,"v2":0.233},{"x":98,"v1":0,"v2":0.227},{"x":99,"v1":0,"v2":0.223},{"x":100,"v1":0,"v2":-0.005},
      {"x":101,"v1":0,"v2":-0.01},{"x":102,"v1":0,"v2":-0.008},{"x":103,"v1":0,"v2":0},{"x":104,"v1":0,"v2":0.003},{"x":105,"v1":0,"v2":0},
      {"x":106,"v1":0,"v2":0},{"x":107,"v1":0,"v2":0.143},{"x":108,"v1":0,"v2":0.104},{"x":109,"v1":0,"v2":0.09},{"x":110,"v1":0,"v2":0.027},
      {"x":111,"v1":0,"v2":0.01},{"x":112,"v1":0,"v2":0},{"x":113,"v1":0,"v2":0},{"x":114,"v1":0,"v2":-0.03},{"x":115,"v1":0,"v2":0},
      {"x":116,"v1":0,"v2":0.002},{"x":117,"v1":0,"v2":0},{"x":118,"v1":0,"v2":0},{"x":119,"v1":0,"v2":0},{"x":120,"v1":0,"v2":-0.152},
      {"x":121,"v1":0,"v2":-0.155},{"x":122,"v1":0,"v2":-0.152},{"x":123,"v1":0,"v2":-0.166},{"x":124,"v1":0,"v2":-0.152},{"x":125,"v1":0,"v2":0},
      {"x":126,"v1":0,"v2":0.005},{"x":127,"v1":0,"v2":0.003},{"x":128,"v1":0,"v2":0.003},{"x":129,"v1":0,"v2":0},{"x":130,"v1":0,"v2":0.015},
      {"x":131,"v1":0,"v2":0},{"x":132,"v1":0,"v2":-0.072},{"x":133,"v1":0,"v2":-0.085},{"x":134,"v1":0,"v2":-0.04},{"x":135,"v1":0,"v2":-0.107},
      {"x":136,"v1":0,"v2":-0.072},{"x":137,"v1":0,"v2":0},{"x":138,"v1":0,"v2":0.005},{"x":139,"v1":0,"v2":0.007},{"x":140,"v1":0,"v2":0.007},
      {"x":141,"v1":0,"v2":0.005},{"x":142,"v1":0,"v2":0},{"x":143,"v1":0,"v2":-0.198},{"x":144,"v1":0,"v2":-0.198},{"x":145,"v1":0,"v2":-0.19},
      {"x":146,"v1":0,"v2":-0.198},{"x":147,"v1":0,"v2":-0.19},{"x":148,"v1":0,"v2":-0.205},{"x":149,"v1":0,"v2":0},{"x":150,"v1":0,"v2":0.02},
      {"x":151,"v1":0,"v2":0},{"x":152,"v1":0,"v2":-0.015},{"x":153,"v1":0,"v2":0},{"x":154,"v1":0,"v2":0.01},{"x":155,"v1":0,"v2":-0.02},
      {"x":156,"v1":0,"v2":-0.121},{"x":157,"v1":0,"v2":-0.14},{"x":158,"v1":0,"v2":0},{"x":159,"v1":0,"v2":-0.003},{"x":160,"v1":0,"v2":0},
      {"x":161,"v1":0,"v2":0},{"x":162,"v1":0,"v2":0},{"x":163,"v1":0,"v2":0},{"x":164,"v1":0,"v2":0},{"x":165,"v1":0,"v2":0},
      {"x":166,"v1":0,"v2":0},{"x":167,"v1":0,"v2":0},{"x":168,"v1":0,"v2":0},{"x":169,"v1":0,"v2":0},{"x":170,"v1":0,"v2":0},
      {"x":171,"v1":0,"v2":0},{"x":172,"v1":0,"v2":0},{"x":173,"v1":0,"v2":0},{"x":174,"v1":0,"v2":0},{"x":175,"v1":0,"v2":0},
      {"x":176,"v1":0,"v2":0},{"x":177,"v1":0,"v2":0},{"x":178,"v1":0,"v2":0},{"x":179,"v1":0,"v2":0},{"x":180,"v1":0,"v2":0},
      {"x":181,"v1":0,"v2":0},{"x":182,"v1":0,"v2":0},{"x":183,"v1":0,"v2":0},{"x":184,"v1":0,"v2":0},{"x":185,"v1":0,"v2":0},
      {"x":186,"v1":0,"v2":0},{"x":187,"v1":0,"v2":0},{"x":188,"v1":0,"v2":0},{"x":189,"v1":0,"v2":0},{"x":190,"v1":0,"v2":0},
      {"x":191,"v1":0,"v2":0},{"x":192,"v1":0,"v2":0},{"x":193,"v1":0,"v2":0},{"x":194,"v1":0,"v2":0},{"x":195,"v1":0,"v2":0},
      {"x":196,"v1":0,"v2":0},{"x":197,"v1":0,"v2":0},{"x":198,"v1":0,"v2":0},{"x":199,"v1":0,"v2":0},{"x":200,"v1":0,"v2":0},
      {"x":201,"v1":0,"v2":0},{"x":202,"v1":0,"v2":0},{"x":203,"v1":0,"v2":0},{"x":204,"v1":0,"v2":0},{"x":205,"v1":0,"v2":0},
      {"x":206,"v1":0,"v2":0},{"x":207,"v1":0,"v2":0},{"x":208,"v1":0,"v2":0},{"x":209,"v1":0,"v2":0},{"x":210,"v1":0,"v2":0},
      {"x":211,"v1":0,"v2":0},{"x":212,"v1":0,"v2":0},{"x":213,"v1":0,"v2":-0.025},{"x":214,"v1":0,"v2":-0.01},{"x":215,"v1":0,"v2":0.008},
      {"x":216,"v1":0,"v2":0.025},{"x":217,"v1":0,"v2":0.037},{"x":218,"v1":0,"v2":0.015},{"x":219,"v1":0,"v2":-0.005},{"x":220,"v1":0,"v2":0.008},
      {"x":221,"v1":0,"v2":-0.014},{"x":222,"v1":0,"v2":0.011},{"x":223,"v1":0,"v2":0.003},{"x":224,"v1":0,"v2":0.018},{"x":225,"v1":0,"v2":-0.01},
      {"x":226,"v1":0,"v2":0.004},{"x":227,"v1":0,"v2":0.011},{"x":228,"v1":0,"v2":0.017},{"x":229,"v1":0,"v2":0.004},{"x":230,"v1":0,"v2":0.014},
      {"x":231,"v1":0,"v2":0.022},{"x":232,"v1":0,"v2":0.008},{"x":233,"v1":0,"v2":0.014},{"x":234,"v1":0,"v2":0.018},{"x":235,"v1":0,"v2":0.017},
      {"x":236,"v1":0,"v2":0.011},{"x":237,"v1":0,"v2":0.018},{"x":238,"v1":0,"v2":0.011},{"x":239,"v1":0,"v2":0.022},{"x":240,"v1":0,"v2":0.037},
      {"x":241,"v1":0,"v2":0.025},{"x":242,"v1":0,"v2":0},{"x":243,"v1":0,"v2":-0.024},{"x":244,"v1":0,"v2":-0.01},{"x":245,"v1":0,"v2":0.008},
      {"x":246,"v1":0,"v2":0.014},{"x":247,"v1":0,"v2":0.028},{"x":248,"v1":0,"v2":0.022},{"x":249,"v1":0,"v2":0.032},{"x":250,"v1":0,"v2":0.022},
      {"x":251,"v1":0,"v2":0.004},{"x":252,"v1":0,"v2":0.011},{"x":253,"v1":0,"v2":0.025},{"x":254,"v1":0,"v2":0.008},{"x":255,"v1":0,"v2":0.004},
      {"x":256,"v1":0,"v2":-0.003},{"x":257,"v1":0,"v2":-0.01},{"x":258,"v1":0,"v2":0.005},{"x":259,"v1":0,"v2":0.012},{"x":260,"v1":0,"v2":0.004},
      {"x":261,"v1":0,"v2":-0.01},{"x":262,"v1":0,"v2":0},{"x":263,"v1":0,"v2":0},{"x":264,"v1":0,"v2":0},{"x":265,"v1":0,"v2":0},
      {"x":266,"v1":0,"v2":0},{"x":267,"v1":0,"v2":0},{"x":268,"v1":0,"v2":0},{"x":269,"v1":0,"v2":0},{"x":270,"v1":0,"v2":0},
      {"x":271,"v1":0,"v2":0},{"x":272,"v1":0,"v2":0},{"x":273,"v1":0,"v2":0},{"x":274,"v1":0,"v2":0},{"x":275,"v1":0,"v2":0},
      {"x":276,"v1":0,"v2":0},{"x":277,"v1":0,"v2":0},{"x":278,"v1":0,"v2":0},{"x":279,"v1":0,"v2":0},{"x":280,"v1":0,"v2":0},
      {"x":281,"v1":0,"v2":0},{"x":282,"v1":0,"v2":0},{"x":283,"v1":0,"v2":0},{"x":284,"v1":0,"v2":0},{"x":285,"v1":0,"v2":0},
      {"x":286,"v1":0,"v2":0},{"x":287,"v1":0,"v2":0},{"x":288,"v1":0,"v2":0},{"x":289,"v1":0,"v2":0},{"x":290,"v1":0,"v2":0},
      {"x":291,"v1":0,"v2":0},{"x":292,"v1":0,"v2":0},{"x":293,"v1":0,"v2":0},{"x":294,"v1":0,"v2":0},{"x":295,"v1":0,"v2":0},
      {"x":296,"v1":0,"v2":0},{"x":297,"v1":0,"v2":0},{"x":298,"v1":0,"v2":0},{"x":299,"v1":0,"v2":0},{"x":300,"v1":0,"v2":0},
      {"x":301,"v1":0,"v2":0},{"x":302,"v1":0,"v2":0},{"x":303,"v1":0,"v2":0},{"x":304,"v1":0,"v2":0},{"x":305,"v1":0,"v2":0},
      {"x":306,"v1":0,"v2":0},{"x":307,"v1":0,"v2":0},{"x":308,"v1":0,"v2":0},{"x":309,"v1":0,"v2":0},{"x":310,"v1":0,"v2":0},
      {"x":311,"v1":0,"v2":0},{"x":312,"v1":0,"v2":0},{"x":313,"v1":0,"v2":0},{"x":314,"v1":0,"v2":0},{"x":315,"v1":0,"v2":0},
      {"x":316,"v1":0,"v2":0},{"x":317,"v1":0,"v2":0},{"x":318,"v1":0,"v2":0},{"x":319,"v1":0,"v2":0},{"x":320,"v1":0,"v2":0},
      {"x":321,"v1":0,"v2":0},{"x":322,"v1":0,"v2":0},{"x":323,"v1":0,"v2":0},{"x":324,"v1":0,"v2":0},{"x":325,"v1":0,"v2":0},
      {"x":326,"v1":0,"v2":0},{"x":327,"v1":0,"v2":0},{"x":328,"v1":0,"v2":0},{"x":329,"v1":0,"v2":0},{"x":330,"v1":0,"v2":0},
      {"x":331,"v1":0,"v2":0},{"x":332,"v1":0,"v2":0},{"x":333,"v1":0,"v2":0},{"x":334,"v1":0,"v2":0},{"x":335,"v1":0,"v2":0},
      {"x":336,"v1":0,"v2":0},{"x":337,"v1":0,"v2":0},{"x":338,"v1":0,"v2":0},{"x":339,"v1":0,"v2":0},{"x":340,"v1":0,"v2":0},
      {"x":341,"v1":0,"v2":0},{"x":342,"v1":0,"v2":0},{"x":343,"v1":0,"v2":0},{"x":344,"v1":0,"v2":0},{"x":345,"v1":0,"v2":0},
      {"x":346,"v1":0,"v2":0},{"x":347,"v1":0,"v2":0},{"x":348,"v1":0,"v2":0},{"x":349,"v1":0,"v2":0},{"x":350,"v1":0,"v2":0},
      {"x":351,"v1":0,"v2":0},{"x":352,"v1":0,"v2":0},{"x":353,"v1":0,"v2":0},{"x":354,"v1":0,"v2":0},{"x":355,"v1":0,"v2":0},
      {"x":356,"v1":0,"v2":0},{"x":357,"v1":0,"v2":0},{"x":358,"v1":0,"v2":0},{"x":359,"v1":0,"v2":0},{"x":360,"v1":0,"v2":0},
      {"x":361,"v1":0,"v2":0},{"x":362,"v1":0,"v2":0},{"x":363,"v1":0,"v2":0},{"x":364,"v1":0,"v2":0},{"x":365,"v1":0,"v2":0},
      {"x":366,"v1":0,"v2":0},{"x":367,"v1":0,"v2":0},{"x":368,"v1":0,"v2":0},{"x":369,"v1":0,"v2":0},{"x":370,"v1":0,"v2":0},
      {"x":371,"v1":0,"v2":0},{"x":372,"v1":0,"v2":0},{"x":373,"v1":0,"v2":0},{"x":374,"v1":0,"v2":0},{"x":375,"v1":0,"v2":0}
    ]
  },
  "vconcat": [
    {
      "width": 904, "height": 134,
      "title": {"text": "Centered and standardized profile data", "font": "Liberation Serif", "fontSize": 22, "fontWeight": "normal", "color": "#111", "frame": "group", "anchor": "middle", "dx": 16, "offset": 9},
      "resolve": {"axis": {"x": "independent"}},
      "layer": [
        {
          "data": {"name": "breaks"},
          "transform": [{"filter": "datum.set == 1"}],
          "mark": {"type": "rule", "color": "#e3242b", "strokeWidth": 2.5, "strokeDash": [7.5, 4.5]},
          "encoding": {"x": {"field": "x", "type": "quantitative", "scale": {"domain": [-14.2, 384.9], "nice": false, "zero": false},
            "axis": {"orient": "top", "labels": false, "ticks": false, "domain": true}}}
        },
        {
          "data": {"name": "breaks"},
          "transform": [{"filter": "datum.set == 2"}],
          "mark": {"type": "rule", "color": "#a8323f", "strokeWidth": 2.5, "strokeDash": [7.5, 4.5]},
          "encoding": {"x": {"field": "x", "type": "quantitative", "axis": null}}
        },
        {
          "data": {"name": "breaks"},
          "transform": [{"filter": "datum.end"}],
          "mark": {"type": "rule", "color": "#1515c8", "strokeWidth": 3, "strokeDash": [2, 7], "strokeCap": "round"},
          "encoding": {"x": {"field": "x", "type": "quantitative", "axis": null}}
        },
        {
          "data": {"values": [{}]},
          "mark": {"type": "rule", "color": "#63c463", "strokeWidth": 1.5},
          "encoding": {"y": {"datum": 0, "type": "quantitative"}}
        },
        {
          "data": {"name": "profiles"},
          "transform": [{"fold": ["a", "b", "c", "d", "e", "f", "g", "h", "i", "j"], "as": ["series", "value"]}],
          "mark": {"type": "line", "strokeWidth": 1.2, "clip": true},
          "encoding": {
            "x": {"field": "x", "type": "quantitative", "scale": {"domain": [-14.2, 384.9], "nice": false, "zero": false},
              "axis": {"orient": "bottom", "values": [0, 100, 200, 300], "format": "d", "labelFont": "DejaVu Sans", "labelPadding": 8}},
            "y": {"field": "value", "type": "quantitative", "scale": {"domain": [-16.3, 16.3], "nice": false, "zero": false},
              "axis": {"values": [-15, -10, -5, 0, 5, 10, 15], "labelExpr": "datum.value % 10 == 0 ? '' : replace(datum.label, '−', '-')",
                "labelAngle": 270, "labelAlign": "center", "labelBaseline": "alphabetic", "labelPadding": 17, "minExtent": 51}},
            "color": {"field": "series", "type": "nominal", "legend": null,
              "scale": {"domain": ["a", "b", "c", "d", "e", "f", "g", "h", "i", "j"],
                "range": ["#000000", "#ff0000", "#00cd00", "#0000ff", "#00e5ee", "#ff00ff", "#ffd700", "#a0a0a0", "#8a2be2", "#ff8c00"]}},
            "detail": {"field": "series"}
          }
        }
      ]
    },
    {
      "width": 904, "height": 126,
      "title": {"text": "𝐯̂₁, 𝑑𝑓 = 20, EV = 0.2915", "font": "DejaVu Serif", "fontSize": 19, "fontWeight": "normal", "color": "#111", "frame": "group", "anchor": "middle", "dx": -5, "offset": 6},
      "resolve": {"axis": {"x": "independent"}},
      "layer": [
        {
          "data": {"name": "breaks"},
          "transform": [{"filter": "datum.set == 1"}],
          "mark": {"type": "rule", "color": "#e3242b", "strokeWidth": 2.5, "strokeDash": [7.5, 4.5]},
          "encoding": {"x": {"field": "x", "type": "quantitative", "scale": {"domain": [-14.2, 384.9], "nice": false, "zero": false},
            "axis": {"orient": "top", "labels": false, "ticks": false, "domain": true}}}
        },
        {
          "data": {"name": "breaks"},
          "transform": [{"filter": "datum.set == 2"}],
          "mark": {"type": "rule", "color": "#a8323f", "strokeWidth": 2.5, "strokeDash": [7.5, 4.5]},
          "encoding": {"x": {"field": "x", "type": "quantitative", "axis": null}}
        },
        {
          "data": {"name": "breaks"},
          "transform": [{"filter": "datum.end"}],
          "mark": {"type": "rule", "color": "#1515c8", "strokeWidth": 3, "strokeDash": [2, 7], "strokeCap": "round"},
          "encoding": {"x": {"field": "x", "type": "quantitative", "axis": null}}
        },
        {
          "data": {"name": "loadings"},
          "mark": {"type": "line", "color": "#1a1a1a", "strokeWidth": 1, "clip": true},
          "encoding": {
            "x": {"field": "x", "type": "quantitative", "scale": {"domain": [-14.2, 384.9], "nice": false, "zero": false},
              "axis": {"orient": "bottom", "values": [0, 100, 200, 300], "format": "d", "labelFont": "DejaVu Sans", "labelPadding": 7}},
            "y": {"field": "v1", "type": "quantitative", "scale": {"domain": [-0.058, 0.473], "nice": false, "zero": false},
              "axis": {"values": [0, 0.1, 0.2, 0.3, 0.4], "format": ".1f", "labelExpr": "round(datum.value * 10) % 2 == 0 ? replace(datum.label, '−', '-') : ''",
                "labelAngle": 270, "labelAlign": "center", "labelBaseline": "alphabetic", "labelPadding": 17, "minExtent": 51}}
          }
        },
        {
          "data": {"name": "loadings"},
          "mark": {"type": "point", "filled": true, "color": "#000000", "size": 16, "opacity": 1, "clip": true},
          "encoding": {
            "x": {"field": "x", "type": "quantitative", "axis": null},
            "y": {"field": "v1", "type": "quantitative"}
          }
        },
        {
          "data": {"values": [{}]},
          "mark": {"type": "rule", "color": "#63c463", "strokeWidth": 1.3},
          "encoding": {"y": {"datum": 0, "type": "quantitative"}}
        }
      ]
    },
    {
      "width": 904, "height": 126,
      "title": {"text": "𝐯̂₂, 𝑑𝑓 = 99, EV = 0.1050", "font": "DejaVu Serif", "fontSize": 19, "fontWeight": "normal", "color": "#111", "frame": "group", "anchor": "middle", "dx": 1, "offset": 8},
      "resolve": {"axis": {"x": "independent"}},
      "layer": [
        {
          "data": {"name": "breaks"},
          "transform": [{"filter": "datum.set == 1"}],
          "mark": {"type": "rule", "color": "#e3242b", "strokeWidth": 2.5, "strokeDash": [7.5, 4.5]},
          "encoding": {"x": {"field": "x", "type": "quantitative", "scale": {"domain": [-14.2, 384.9], "nice": false, "zero": false},
            "axis": {"orient": "top", "labels": false, "ticks": false, "domain": true}}}
        },
        {
          "data": {"name": "breaks"},
          "transform": [{"filter": "datum.set == 2"}],
          "mark": {"type": "rule", "color": "#a8323f", "strokeWidth": 2.5, "strokeDash": [7.5, 4.5]},
          "encoding": {"x": {"field": "x", "type": "quantitative", "axis": null}}
        },
        {
          "data": {"name": "breaks"},
          "transform": [{"filter": "datum.end"}],
          "mark": {"type": "rule", "color": "#1515c8", "strokeWidth": 3, "strokeDash": [2, 7], "strokeCap": "round"},
          "encoding": {"x": {"field": "x", "type": "quantitative", "axis": null}}
        },
        {
          "data": {"name": "loadings"},
          "mark": {"type": "line", "color": "#1a1a1a", "strokeWidth": 1, "clip": true},
          "encoding": {
            "x": {"field": "x", "type": "quantitative", "scale": {"domain": [-14.2, 384.9], "nice": false, "zero": false},
              "axis": {"orient": "bottom", "values": [0, 100, 200, 300], "format": "d", "labelFont": "DejaVu Sans", "labelPadding": 5}},
            "y": {"field": "v2", "type": "quantitative", "scale": {"domain": [-0.249, 0.283], "nice": false, "zero": false},
              "axis": {"values": [-0.2, -0.1, 0, 0.1, 0.2], "format": ".1f", "labelExpr": "round(datum.value * 10) % 2 == 0 ? replace(datum.label, '−', '-') : ''",
                "labelAngle": 270, "labelAlign": "center", "labelBaseline": "alphabetic", "labelPadding": 17, "minExtent": 51}}
          }
        },
        {
          "data": {"name": "loadings"},
          "mark": {"type": "point", "filled": true, "color": "#000000", "size": 16, "opacity": 1, "clip": true},
          "encoding": {
            "x": {"field": "x", "type": "quantitative", "axis": null},
            "y": {"field": "v2", "type": "quantitative"}
          }
        },
        {
          "data": {"values": [{}]},
          "mark": {"type": "rule", "color": "#63c463", "strokeWidth": 1.3},
          "encoding": {"y": {"datum": 0, "type": "quantitative"}}
        }
      ]
    }
  ]
}
